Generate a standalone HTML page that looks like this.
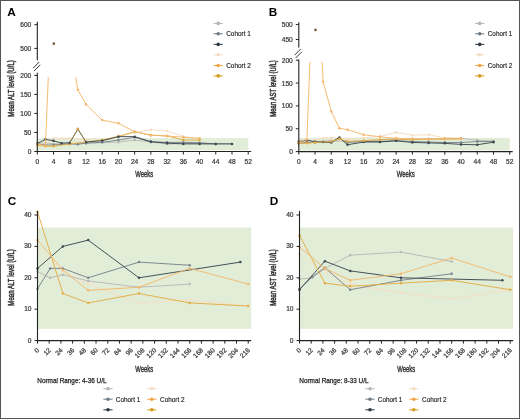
<!DOCTYPE html>
<html><head><meta charset="utf-8"><style>
html,body{margin:0;padding:0;background:#fff;width:520px;height:419px;overflow:hidden;}
svg{display:block;font-family:"Liberation Sans", sans-serif;filter:blur(0.3px);}
</style></head><body>
<svg width="520" height="419" viewBox="0 0 520 419" font-family="Liberation Sans, sans-serif">
<rect x="0" y="0" width="520" height="419" fill="#fff"/>
<text x="7.30" y="15.60" font-size="11.8" text-anchor="start" font-weight="bold" fill="#000" >A</text>
<rect x="37.30" y="138.10" width="210.91" height="12.20" fill="#e2edd8"/>
<clipPath id="clipA"><rect x="34.3" y="77.20" width="230" height="79.10"/></clipPath>
<g><polyline points="37.30,143.13 45.41,143.13 53.52,143.89 69.75,143.89 85.97,143.13 102.20,142.52 118.42,142.14 134.64,140.09 150.87,141.99 167.09,144.08 183.32,143.51 199.54,143.51 215.76,143.89 231.99,143.89" fill="none" stroke="#b8b8b8" stroke-width="0.95" stroke-linejoin="round"/>
<circle cx="37.30" cy="143.13" r="1.25" fill="#b8b8b8"/>
<circle cx="45.41" cy="143.13" r="1.25" fill="#b8b8b8"/>
<circle cx="53.52" cy="143.89" r="1.25" fill="#b8b8b8"/>
<circle cx="69.75" cy="143.89" r="1.25" fill="#b8b8b8"/>
<circle cx="85.97" cy="143.13" r="1.25" fill="#b8b8b8"/>
<circle cx="102.20" cy="142.52" r="1.25" fill="#b8b8b8"/>
<circle cx="118.42" cy="142.14" r="1.25" fill="#b8b8b8"/>
<circle cx="134.64" cy="140.09" r="1.25" fill="#b8b8b8"/>
<circle cx="150.87" cy="141.99" r="1.25" fill="#b8b8b8"/>
<circle cx="167.09" cy="144.08" r="1.25" fill="#b8b8b8"/>
<circle cx="183.32" cy="143.51" r="1.25" fill="#b8b8b8"/>
<circle cx="199.54" cy="143.51" r="1.25" fill="#b8b8b8"/>
<circle cx="215.76" cy="143.89" r="1.25" fill="#b8b8b8"/>
<circle cx="231.99" cy="143.89" r="1.25" fill="#b8b8b8"/>
</g>
<g><polyline points="37.30,144.65 45.41,143.89 53.52,138.18 61.64,138.18 69.75,138.18 85.97,140.09 102.20,139.70 118.42,137.04 134.64,132.47 150.87,129.81 167.09,130.95 183.32,136.28 199.54,139.32" fill="none" stroke="#f5ddc2" stroke-width="0.95" stroke-linejoin="round"/>
<circle cx="37.30" cy="144.65" r="1.25" fill="#f5ddc2"/>
<circle cx="45.41" cy="143.89" r="1.25" fill="#f5ddc2"/>
<circle cx="53.52" cy="138.18" r="1.25" fill="#f5ddc2"/>
<circle cx="61.64" cy="138.18" r="1.25" fill="#f5ddc2"/>
<circle cx="69.75" cy="138.18" r="1.25" fill="#f5ddc2"/>
<circle cx="85.97" cy="140.09" r="1.25" fill="#f5ddc2"/>
<circle cx="102.20" cy="139.70" r="1.25" fill="#f5ddc2"/>
<circle cx="118.42" cy="137.04" r="1.25" fill="#f5ddc2"/>
<circle cx="134.64" cy="132.47" r="1.25" fill="#f5ddc2"/>
<circle cx="150.87" cy="129.81" r="1.25" fill="#f5ddc2"/>
<circle cx="167.09" cy="130.95" r="1.25" fill="#f5ddc2"/>
<circle cx="183.32" cy="136.28" r="1.25" fill="#f5ddc2"/>
<circle cx="199.54" cy="139.32" r="1.25" fill="#f5ddc2"/>
</g>
<g><polyline points="37.30,143.89 45.41,145.03 53.52,145.03 69.75,143.89 77.86,144.27 85.97,143.13 102.20,142.37 118.42,140.09 134.64,137.23 150.87,141.99 167.09,142.37 183.32,142.37 199.54,142.75 215.76,143.89" fill="none" stroke="#78848c" stroke-width="0.95" stroke-linejoin="round"/>
<circle cx="37.30" cy="143.89" r="1.25" fill="#78848c"/>
<circle cx="45.41" cy="145.03" r="1.25" fill="#78848c"/>
<circle cx="53.52" cy="145.03" r="1.25" fill="#78848c"/>
<circle cx="69.75" cy="143.89" r="1.25" fill="#78848c"/>
<circle cx="77.86" cy="144.27" r="1.25" fill="#78848c"/>
<circle cx="85.97" cy="143.13" r="1.25" fill="#78848c"/>
<circle cx="102.20" cy="142.37" r="1.25" fill="#78848c"/>
<circle cx="118.42" cy="140.09" r="1.25" fill="#78848c"/>
<circle cx="134.64" cy="137.23" r="1.25" fill="#78848c"/>
<circle cx="150.87" cy="141.99" r="1.25" fill="#78848c"/>
<circle cx="167.09" cy="142.37" r="1.25" fill="#78848c"/>
<circle cx="183.32" cy="142.37" r="1.25" fill="#78848c"/>
<circle cx="199.54" cy="142.75" r="1.25" fill="#78848c"/>
<circle cx="215.76" cy="143.89" r="1.25" fill="#78848c"/>
</g>
<g><polyline points="37.30,145.03 45.41,146.17 53.52,146.17 69.75,143.89 85.97,141.99 102.20,140.09 118.42,136.28 134.64,131.71 150.87,135.14 167.09,135.90 183.32,140.09 199.54,140.09" fill="none" stroke="#e4ad45" stroke-width="0.95" stroke-linejoin="round"/>
<circle cx="37.30" cy="145.03" r="1.25" fill="#e4ad45"/>
<circle cx="45.41" cy="146.17" r="1.25" fill="#e4ad45"/>
<circle cx="53.52" cy="146.17" r="1.25" fill="#e4ad45"/>
<circle cx="69.75" cy="143.89" r="1.25" fill="#e4ad45"/>
<circle cx="85.97" cy="141.99" r="1.25" fill="#e4ad45"/>
<circle cx="102.20" cy="140.09" r="1.25" fill="#e4ad45"/>
<circle cx="118.42" cy="136.28" r="1.25" fill="#e4ad45"/>
<circle cx="134.64" cy="131.71" r="1.25" fill="#e4ad45"/>
<circle cx="150.87" cy="135.14" r="1.25" fill="#e4ad45"/>
<circle cx="167.09" cy="135.90" r="1.25" fill="#e4ad45"/>
<circle cx="183.32" cy="140.09" r="1.25" fill="#e4ad45"/>
<circle cx="199.54" cy="140.09" r="1.25" fill="#e4ad45"/>
</g>
<g><polyline points="37.30,143.51 45.41,139.32 53.52,140.85 61.64,143.13 69.75,142.75 77.86,129.05 85.97,141.99 102.20,140.69 118.42,136.66 134.64,136.66 150.87,141.61 167.09,143.13 183.32,143.89 199.54,143.89 215.76,143.89 231.99,143.89" fill="none" stroke="#3c4850" stroke-width="0.95" stroke-linejoin="round"/>
<circle cx="37.30" cy="143.51" r="1.25" fill="#3c4850"/>
<circle cx="45.41" cy="139.32" r="1.25" fill="#3c4850"/>
<circle cx="53.52" cy="140.85" r="1.25" fill="#3c4850"/>
<circle cx="61.64" cy="143.13" r="1.25" fill="#3c4850"/>
<circle cx="69.75" cy="142.75" r="1.25" fill="#3c4850"/>
<circle cx="77.86" cy="129.05" r="1.25" fill="#3c4850"/>
<circle cx="85.97" cy="141.99" r="1.25" fill="#3c4850"/>
<circle cx="102.20" cy="140.69" r="1.25" fill="#3c4850"/>
<circle cx="118.42" cy="136.66" r="1.25" fill="#3c4850"/>
<circle cx="134.64" cy="136.66" r="1.25" fill="#3c4850"/>
<circle cx="150.87" cy="141.61" r="1.25" fill="#3c4850"/>
<circle cx="167.09" cy="143.13" r="1.25" fill="#3c4850"/>
<circle cx="183.32" cy="143.89" r="1.25" fill="#3c4850"/>
<circle cx="199.54" cy="143.89" r="1.25" fill="#3c4850"/>
<circle cx="215.76" cy="143.89" r="1.25" fill="#3c4850"/>
<circle cx="231.99" cy="143.89" r="1.25" fill="#3c4850"/>
</g>
<g clip-path="url(#clipA)"><polyline points="37.30,143.89 45.41,145.79 53.52,-46.36 77.86,89.86 85.97,104.32 102.20,120.11 118.42,123.34 134.64,131.71 150.87,135.29 167.09,136.01 183.32,137.19 199.54,138.26" fill="none" stroke="#f3b86c" stroke-width="0.95" stroke-linejoin="round"/>
<circle cx="37.30" cy="143.89" r="1.25" fill="#f3b86c"/>
<circle cx="45.41" cy="145.79" r="1.25" fill="#f3b86c"/>
<circle cx="53.52" cy="-46.36" r="1.25" fill="#f3b86c"/>
<circle cx="77.86" cy="89.86" r="1.25" fill="#f3b86c"/>
<circle cx="85.97" cy="104.32" r="1.25" fill="#f3b86c"/>
<circle cx="102.20" cy="120.11" r="1.25" fill="#f3b86c"/>
<circle cx="118.42" cy="123.34" r="1.25" fill="#f3b86c"/>
<circle cx="134.64" cy="131.71" r="1.25" fill="#f3b86c"/>
<circle cx="150.87" cy="135.29" r="1.25" fill="#f3b86c"/>
<circle cx="167.09" cy="136.01" r="1.25" fill="#f3b86c"/>
<circle cx="183.32" cy="137.19" r="1.25" fill="#f3b86c"/>
<circle cx="199.54" cy="138.26" r="1.25" fill="#f3b86c"/>
</g>
<line x1="37.30" y1="21.70" x2="37.30" y2="60.30" stroke="#222" stroke-width="1.1"/>
<line x1="37.30" y1="72.70" x2="37.30" y2="152.00" stroke="#222" stroke-width="1.1"/>
<line x1="36.80" y1="151.50" x2="251.21" y2="151.50" stroke="#222" stroke-width="1.1"/>
<line x1="33.10" y1="68.10" x2="39.30" y2="61.90" stroke="#222" stroke-width="0.9"/>
<line x1="34.10" y1="71.00" x2="40.30" y2="64.80" stroke="#222" stroke-width="0.9"/>
<line x1="34.30" y1="48.40" x2="37.30" y2="48.40" stroke="#222" stroke-width="1.0"/>
<text x="31.30" y="50.90" font-size="6.6" text-anchor="end" font-weight="normal" fill="#3a3a3a" stroke="#3a3a3a" stroke-width="0.22">500</text>
<line x1="34.30" y1="24.70" x2="37.30" y2="24.70" stroke="#222" stroke-width="1.0"/>
<text x="31.30" y="27.20" font-size="6.6" text-anchor="end" font-weight="normal" fill="#3a3a3a" stroke="#3a3a3a" stroke-width="0.22">600</text>
<line x1="34.30" y1="151.50" x2="37.30" y2="151.50" stroke="#222" stroke-width="1.0"/>
<text x="31.30" y="154.00" font-size="6.6" text-anchor="end" font-weight="normal" fill="#3a3a3a" stroke="#3a3a3a" stroke-width="0.22">0</text>
<line x1="34.30" y1="132.47" x2="37.30" y2="132.47" stroke="#222" stroke-width="1.0"/>
<text x="31.30" y="134.97" font-size="6.6" text-anchor="end" font-weight="normal" fill="#3a3a3a" stroke="#3a3a3a" stroke-width="0.22">50</text>
<line x1="34.30" y1="113.45" x2="37.30" y2="113.45" stroke="#222" stroke-width="1.0"/>
<text x="31.30" y="115.95" font-size="6.6" text-anchor="end" font-weight="normal" fill="#3a3a3a" stroke="#3a3a3a" stroke-width="0.22">100</text>
<line x1="34.30" y1="94.42" x2="37.30" y2="94.42" stroke="#222" stroke-width="1.0"/>
<text x="31.30" y="96.92" font-size="6.6" text-anchor="end" font-weight="normal" fill="#3a3a3a" stroke="#3a3a3a" stroke-width="0.22">150</text>
<line x1="34.30" y1="75.40" x2="37.30" y2="75.40" stroke="#222" stroke-width="1.0"/>
<text x="31.30" y="77.90" font-size="6.6" text-anchor="end" font-weight="normal" fill="#3a3a3a" stroke="#3a3a3a" stroke-width="0.22">200</text>
<line x1="37.30" y1="151.50" x2="37.30" y2="154.50" stroke="#222" stroke-width="1.0"/>
<text x="37.30" y="163.80" font-size="6.6" text-anchor="middle" font-weight="normal" fill="#3a3a3a" stroke="#3a3a3a" stroke-width="0.22">0</text>
<line x1="53.52" y1="151.50" x2="53.52" y2="154.50" stroke="#222" stroke-width="1.0"/>
<text x="53.52" y="163.80" font-size="6.6" text-anchor="middle" font-weight="normal" fill="#3a3a3a" stroke="#3a3a3a" stroke-width="0.22">4</text>
<line x1="69.75" y1="151.50" x2="69.75" y2="154.50" stroke="#222" stroke-width="1.0"/>
<text x="69.75" y="163.80" font-size="6.6" text-anchor="middle" font-weight="normal" fill="#3a3a3a" stroke="#3a3a3a" stroke-width="0.22">8</text>
<line x1="85.97" y1="151.50" x2="85.97" y2="154.50" stroke="#222" stroke-width="1.0"/>
<text x="85.97" y="163.80" font-size="6.6" text-anchor="middle" font-weight="normal" fill="#3a3a3a" stroke="#3a3a3a" stroke-width="0.22">12</text>
<line x1="102.20" y1="151.50" x2="102.20" y2="154.50" stroke="#222" stroke-width="1.0"/>
<text x="102.20" y="163.80" font-size="6.6" text-anchor="middle" font-weight="normal" fill="#3a3a3a" stroke="#3a3a3a" stroke-width="0.22">16</text>
<line x1="118.42" y1="151.50" x2="118.42" y2="154.50" stroke="#222" stroke-width="1.0"/>
<text x="118.42" y="163.80" font-size="6.6" text-anchor="middle" font-weight="normal" fill="#3a3a3a" stroke="#3a3a3a" stroke-width="0.22">20</text>
<line x1="134.64" y1="151.50" x2="134.64" y2="154.50" stroke="#222" stroke-width="1.0"/>
<text x="134.64" y="163.80" font-size="6.6" text-anchor="middle" font-weight="normal" fill="#3a3a3a" stroke="#3a3a3a" stroke-width="0.22">24</text>
<line x1="150.87" y1="151.50" x2="150.87" y2="154.50" stroke="#222" stroke-width="1.0"/>
<text x="150.87" y="163.80" font-size="6.6" text-anchor="middle" font-weight="normal" fill="#3a3a3a" stroke="#3a3a3a" stroke-width="0.22">28</text>
<line x1="167.09" y1="151.50" x2="167.09" y2="154.50" stroke="#222" stroke-width="1.0"/>
<text x="167.09" y="163.80" font-size="6.6" text-anchor="middle" font-weight="normal" fill="#3a3a3a" stroke="#3a3a3a" stroke-width="0.22">32</text>
<line x1="183.32" y1="151.50" x2="183.32" y2="154.50" stroke="#222" stroke-width="1.0"/>
<text x="183.32" y="163.80" font-size="6.6" text-anchor="middle" font-weight="normal" fill="#3a3a3a" stroke="#3a3a3a" stroke-width="0.22">36</text>
<line x1="199.54" y1="151.50" x2="199.54" y2="154.50" stroke="#222" stroke-width="1.0"/>
<text x="199.54" y="163.80" font-size="6.6" text-anchor="middle" font-weight="normal" fill="#3a3a3a" stroke="#3a3a3a" stroke-width="0.22">40</text>
<line x1="215.76" y1="151.50" x2="215.76" y2="154.50" stroke="#222" stroke-width="1.0"/>
<text x="215.76" y="163.80" font-size="6.6" text-anchor="middle" font-weight="normal" fill="#3a3a3a" stroke="#3a3a3a" stroke-width="0.22">44</text>
<line x1="231.99" y1="151.50" x2="231.99" y2="154.50" stroke="#222" stroke-width="1.0"/>
<text x="231.99" y="163.80" font-size="6.6" text-anchor="middle" font-weight="normal" fill="#3a3a3a" stroke="#3a3a3a" stroke-width="0.22">48</text>
<line x1="248.21" y1="151.50" x2="248.21" y2="154.50" stroke="#222" stroke-width="1.0"/>
<text x="248.21" y="163.80" font-size="6.6" text-anchor="middle" font-weight="normal" fill="#3a3a3a" stroke="#3a3a3a" stroke-width="0.22">52</text>
<text x="144.30" y="176.80" font-size="8.6" text-anchor="middle" font-weight="normal" fill="#333" textLength="18.0" lengthAdjust="spacingAndGlyphs" stroke="#333" stroke-width="0.4">Weeks</text>
<text transform="translate(14.00,88.4) rotate(-90)" x="0" y="0" font-size="8.6" text-anchor="middle" fill="#333" stroke="#333" stroke-width="0.5" textLength="56.5" lengthAdjust="spacingAndGlyphs">Mean ALT level (U/L)</text>
<line x1="213.60" y1="23.40" x2="222.80" y2="23.40" stroke="#b4b4b4" stroke-width="1.0"/>
<circle cx="218.20" cy="23.40" r="1.8" fill="#b4b4b4"/>
<line x1="213.60" y1="33.80" x2="222.80" y2="33.80" stroke="#6f7c86" stroke-width="1.0"/>
<circle cx="218.20" cy="33.80" r="1.8" fill="#6f7c86"/>
<text x="226.20" y="36.10" font-size="7.0" text-anchor="start" font-weight="normal" fill="#222" textLength="24.6" lengthAdjust="spacingAndGlyphs" stroke="#222" stroke-width="0.15">Cohort 1</text>
<line x1="213.60" y1="44.40" x2="222.80" y2="44.40" stroke="#2f3a44" stroke-width="1.0"/>
<circle cx="218.20" cy="44.40" r="1.8" fill="#2f3a44"/>
<line x1="213.60" y1="54.80" x2="222.80" y2="54.80" stroke="#f3dcc0" stroke-width="1.0"/>
<circle cx="218.20" cy="54.80" r="1.8" fill="#f3dcc0"/>
<line x1="213.60" y1="65.50" x2="222.80" y2="65.50" stroke="#f0a444" stroke-width="1.0"/>
<circle cx="218.20" cy="65.50" r="1.8" fill="#f0a444"/>
<text x="226.20" y="67.80" font-size="7.0" text-anchor="start" font-weight="normal" fill="#222" textLength="24.6" lengthAdjust="spacingAndGlyphs" stroke="#222" stroke-width="0.15">Cohort 2</text>
<line x1="213.60" y1="75.90" x2="222.80" y2="75.90" stroke="#d89a1c" stroke-width="1.0"/>
<circle cx="218.20" cy="75.90" r="1.8" fill="#d89a1c"/>
<circle cx="53.82" cy="43.66" r="1.35" fill="#75643e"/>
<polyline points="69.75,142.75 77.86,129.05 85.97,141.99" fill="none" stroke="#d89a1c" stroke-width="0.9" opacity="0.45"/>
<circle cx="77.86" cy="129.05" r="1.2" fill="#f0a444"/>
<text x="268.80" y="15.60" font-size="11.8" text-anchor="start" font-weight="bold" fill="#000" >B</text>
<rect x="298.80" y="137.90" width="210.91" height="12.50" fill="#e2edd8"/>
<clipPath id="clipB"><rect x="295.8" y="62.00" width="230" height="94.40"/></clipPath>
<g><polyline points="298.80,142.46 306.91,141.55 315.02,140.17 323.14,137.89 331.25,137.89 339.36,137.89 347.47,138.80 363.70,137.89 379.92,136.52 396.14,132.41 412.37,135.15 428.59,134.69 444.82,137.89 461.04,137.89" fill="none" stroke="#f5ddc2" stroke-width="0.95" stroke-linejoin="round"/>
<circle cx="298.80" cy="142.46" r="1.25" fill="#f5ddc2"/>
<circle cx="306.91" cy="141.55" r="1.25" fill="#f5ddc2"/>
<circle cx="315.02" cy="140.17" r="1.25" fill="#f5ddc2"/>
<circle cx="323.14" cy="137.89" r="1.25" fill="#f5ddc2"/>
<circle cx="331.25" cy="137.89" r="1.25" fill="#f5ddc2"/>
<circle cx="339.36" cy="137.89" r="1.25" fill="#f5ddc2"/>
<circle cx="347.47" cy="138.80" r="1.25" fill="#f5ddc2"/>
<circle cx="363.70" cy="137.89" r="1.25" fill="#f5ddc2"/>
<circle cx="379.92" cy="136.52" r="1.25" fill="#f5ddc2"/>
<circle cx="396.14" cy="132.41" r="1.25" fill="#f5ddc2"/>
<circle cx="412.37" cy="135.15" r="1.25" fill="#f5ddc2"/>
<circle cx="428.59" cy="134.69" r="1.25" fill="#f5ddc2"/>
<circle cx="444.82" cy="137.89" r="1.25" fill="#f5ddc2"/>
<circle cx="461.04" cy="137.89" r="1.25" fill="#f5ddc2"/>
</g>
<g><polyline points="298.80,141.55 306.91,140.63 315.02,141.55 331.25,140.63 347.47,141.55 363.70,140.63 379.92,140.17 396.14,139.26 412.37,139.26 428.59,138.80 444.82,138.80 461.04,138.35 477.26,140.17 493.49,141.09" fill="none" stroke="#b8b8b8" stroke-width="0.95" stroke-linejoin="round"/>
<circle cx="298.80" cy="141.55" r="1.25" fill="#b8b8b8"/>
<circle cx="306.91" cy="140.63" r="1.25" fill="#b8b8b8"/>
<circle cx="315.02" cy="141.55" r="1.25" fill="#b8b8b8"/>
<circle cx="331.25" cy="140.63" r="1.25" fill="#b8b8b8"/>
<circle cx="347.47" cy="141.55" r="1.25" fill="#b8b8b8"/>
<circle cx="363.70" cy="140.63" r="1.25" fill="#b8b8b8"/>
<circle cx="379.92" cy="140.17" r="1.25" fill="#b8b8b8"/>
<circle cx="396.14" cy="139.26" r="1.25" fill="#b8b8b8"/>
<circle cx="412.37" cy="139.26" r="1.25" fill="#b8b8b8"/>
<circle cx="428.59" cy="138.80" r="1.25" fill="#b8b8b8"/>
<circle cx="444.82" cy="138.80" r="1.25" fill="#b8b8b8"/>
<circle cx="461.04" cy="138.35" r="1.25" fill="#b8b8b8"/>
<circle cx="477.26" cy="140.17" r="1.25" fill="#b8b8b8"/>
<circle cx="493.49" cy="141.09" r="1.25" fill="#b8b8b8"/>
</g>
<g><polyline points="298.80,143.37 306.91,142.46 315.02,142.46 331.25,142.46 339.36,138.80 347.47,142.46 363.70,141.55 379.92,141.55 396.14,140.63 412.37,141.55 428.59,142.00 444.82,142.46 461.04,142.46 477.26,141.55 493.49,141.55" fill="none" stroke="#78848c" stroke-width="0.95" stroke-linejoin="round"/>
<circle cx="298.80" cy="143.37" r="1.25" fill="#78848c"/>
<circle cx="306.91" cy="142.46" r="1.25" fill="#78848c"/>
<circle cx="315.02" cy="142.46" r="1.25" fill="#78848c"/>
<circle cx="331.25" cy="142.46" r="1.25" fill="#78848c"/>
<circle cx="339.36" cy="138.80" r="1.25" fill="#78848c"/>
<circle cx="347.47" cy="142.46" r="1.25" fill="#78848c"/>
<circle cx="363.70" cy="141.55" r="1.25" fill="#78848c"/>
<circle cx="379.92" cy="141.55" r="1.25" fill="#78848c"/>
<circle cx="396.14" cy="140.63" r="1.25" fill="#78848c"/>
<circle cx="412.37" cy="141.55" r="1.25" fill="#78848c"/>
<circle cx="428.59" cy="142.00" r="1.25" fill="#78848c"/>
<circle cx="444.82" cy="142.46" r="1.25" fill="#78848c"/>
<circle cx="461.04" cy="142.46" r="1.25" fill="#78848c"/>
<circle cx="477.26" cy="141.55" r="1.25" fill="#78848c"/>
<circle cx="493.49" cy="141.55" r="1.25" fill="#78848c"/>
</g>
<g><polyline points="298.80,141.55 306.91,140.17 315.02,141.77 323.14,142.00 331.25,142.23 339.36,137.43 347.47,144.75 363.70,142.00 379.92,142.00 396.14,140.81 412.37,142.46 428.59,142.92 444.82,143.37 461.04,144.38 477.26,144.75 493.49,142.19" fill="none" stroke="#3c4850" stroke-width="0.95" stroke-linejoin="round"/>
<circle cx="298.80" cy="141.55" r="1.25" fill="#3c4850"/>
<circle cx="306.91" cy="140.17" r="1.25" fill="#3c4850"/>
<circle cx="315.02" cy="141.77" r="1.25" fill="#3c4850"/>
<circle cx="323.14" cy="142.00" r="1.25" fill="#3c4850"/>
<circle cx="331.25" cy="142.23" r="1.25" fill="#3c4850"/>
<circle cx="339.36" cy="137.43" r="1.25" fill="#3c4850"/>
<circle cx="347.47" cy="144.75" r="1.25" fill="#3c4850"/>
<circle cx="363.70" cy="142.00" r="1.25" fill="#3c4850"/>
<circle cx="379.92" cy="142.00" r="1.25" fill="#3c4850"/>
<circle cx="396.14" cy="140.81" r="1.25" fill="#3c4850"/>
<circle cx="412.37" cy="142.46" r="1.25" fill="#3c4850"/>
<circle cx="428.59" cy="142.92" r="1.25" fill="#3c4850"/>
<circle cx="444.82" cy="143.37" r="1.25" fill="#3c4850"/>
<circle cx="461.04" cy="144.38" r="1.25" fill="#3c4850"/>
<circle cx="477.26" cy="144.75" r="1.25" fill="#3c4850"/>
<circle cx="493.49" cy="142.19" r="1.25" fill="#3c4850"/>
</g>
<g><polyline points="298.80,143.37 306.91,143.37 315.02,142.46 331.25,141.55 339.36,138.80 347.47,141.55 363.70,140.63 379.92,139.72 396.14,138.80 412.37,139.72 428.59,139.26 444.82,138.80 461.04,138.80" fill="none" stroke="#e4ad45" stroke-width="0.95" stroke-linejoin="round"/>
<circle cx="298.80" cy="143.37" r="1.25" fill="#e4ad45"/>
<circle cx="306.91" cy="143.37" r="1.25" fill="#e4ad45"/>
<circle cx="315.02" cy="142.46" r="1.25" fill="#e4ad45"/>
<circle cx="331.25" cy="141.55" r="1.25" fill="#e4ad45"/>
<circle cx="339.36" cy="138.80" r="1.25" fill="#e4ad45"/>
<circle cx="347.47" cy="141.55" r="1.25" fill="#e4ad45"/>
<circle cx="363.70" cy="140.63" r="1.25" fill="#e4ad45"/>
<circle cx="379.92" cy="139.72" r="1.25" fill="#e4ad45"/>
<circle cx="396.14" cy="138.80" r="1.25" fill="#e4ad45"/>
<circle cx="412.37" cy="139.72" r="1.25" fill="#e4ad45"/>
<circle cx="428.59" cy="139.26" r="1.25" fill="#e4ad45"/>
<circle cx="444.82" cy="138.80" r="1.25" fill="#e4ad45"/>
<circle cx="461.04" cy="138.80" r="1.25" fill="#e4ad45"/>
</g>
<g clip-path="url(#clipB)"><polyline points="298.80,141.55 306.91,139.49 315.02,-68.67 323.14,81.82 331.25,111.38 339.36,128.29 347.47,129.66 363.70,134.69 379.92,136.79 396.14,138.35 412.37,138.80 428.59,139.26 444.82,139.26 461.04,138.80" fill="none" stroke="#f3b86c" stroke-width="0.95" stroke-linejoin="round"/>
<circle cx="298.80" cy="141.55" r="1.25" fill="#f3b86c"/>
<circle cx="306.91" cy="139.49" r="1.25" fill="#f3b86c"/>
<circle cx="315.02" cy="-68.67" r="1.25" fill="#f3b86c"/>
<circle cx="323.14" cy="81.82" r="1.25" fill="#f3b86c"/>
<circle cx="331.25" cy="111.38" r="1.25" fill="#f3b86c"/>
<circle cx="339.36" cy="128.29" r="1.25" fill="#f3b86c"/>
<circle cx="347.47" cy="129.66" r="1.25" fill="#f3b86c"/>
<circle cx="363.70" cy="134.69" r="1.25" fill="#f3b86c"/>
<circle cx="379.92" cy="136.79" r="1.25" fill="#f3b86c"/>
<circle cx="396.14" cy="138.35" r="1.25" fill="#f3b86c"/>
<circle cx="412.37" cy="138.80" r="1.25" fill="#f3b86c"/>
<circle cx="428.59" cy="139.26" r="1.25" fill="#f3b86c"/>
<circle cx="444.82" cy="139.26" r="1.25" fill="#f3b86c"/>
<circle cx="461.04" cy="138.80" r="1.25" fill="#f3b86c"/>
</g>
<line x1="298.80" y1="22.20" x2="298.80" y2="47.50" stroke="#222" stroke-width="1.1"/>
<line x1="298.80" y1="59.60" x2="298.80" y2="152.10" stroke="#222" stroke-width="1.1"/>
<line x1="298.30" y1="151.60" x2="512.71" y2="151.60" stroke="#222" stroke-width="1.1"/>
<line x1="294.60" y1="55.15" x2="300.80" y2="48.95" stroke="#222" stroke-width="0.9"/>
<line x1="295.60" y1="58.05" x2="301.80" y2="51.85" stroke="#222" stroke-width="0.9"/>
<line x1="295.80" y1="39.50" x2="298.80" y2="39.50" stroke="#222" stroke-width="1.0"/>
<text x="292.80" y="42.00" font-size="6.6" text-anchor="end" font-weight="normal" fill="#3a3a3a" stroke="#3a3a3a" stroke-width="0.22">450</text>
<line x1="295.80" y1="24.60" x2="298.80" y2="24.60" stroke="#222" stroke-width="1.0"/>
<text x="292.80" y="27.10" font-size="6.6" text-anchor="end" font-weight="normal" fill="#3a3a3a" stroke="#3a3a3a" stroke-width="0.22">500</text>
<line x1="295.80" y1="151.60" x2="298.80" y2="151.60" stroke="#222" stroke-width="1.0"/>
<text x="292.80" y="154.10" font-size="6.6" text-anchor="end" font-weight="normal" fill="#3a3a3a" stroke="#3a3a3a" stroke-width="0.22">0</text>
<line x1="295.80" y1="128.75" x2="298.80" y2="128.75" stroke="#222" stroke-width="1.0"/>
<text x="292.80" y="131.25" font-size="6.6" text-anchor="end" font-weight="normal" fill="#3a3a3a" stroke="#3a3a3a" stroke-width="0.22">50</text>
<line x1="295.80" y1="105.90" x2="298.80" y2="105.90" stroke="#222" stroke-width="1.0"/>
<text x="292.80" y="108.40" font-size="6.6" text-anchor="end" font-weight="normal" fill="#3a3a3a" stroke="#3a3a3a" stroke-width="0.22">100</text>
<line x1="295.80" y1="83.05" x2="298.80" y2="83.05" stroke="#222" stroke-width="1.0"/>
<text x="292.80" y="85.55" font-size="6.6" text-anchor="end" font-weight="normal" fill="#3a3a3a" stroke="#3a3a3a" stroke-width="0.22">150</text>
<line x1="295.80" y1="60.20" x2="298.80" y2="60.20" stroke="#222" stroke-width="1.0"/>
<text x="292.80" y="62.70" font-size="6.6" text-anchor="end" font-weight="normal" fill="#3a3a3a" stroke="#3a3a3a" stroke-width="0.22">200</text>
<line x1="298.80" y1="151.60" x2="298.80" y2="154.60" stroke="#222" stroke-width="1.0"/>
<text x="298.80" y="163.90" font-size="6.6" text-anchor="middle" font-weight="normal" fill="#3a3a3a" stroke="#3a3a3a" stroke-width="0.22">0</text>
<line x1="315.02" y1="151.60" x2="315.02" y2="154.60" stroke="#222" stroke-width="1.0"/>
<text x="315.02" y="163.90" font-size="6.6" text-anchor="middle" font-weight="normal" fill="#3a3a3a" stroke="#3a3a3a" stroke-width="0.22">4</text>
<line x1="331.25" y1="151.60" x2="331.25" y2="154.60" stroke="#222" stroke-width="1.0"/>
<text x="331.25" y="163.90" font-size="6.6" text-anchor="middle" font-weight="normal" fill="#3a3a3a" stroke="#3a3a3a" stroke-width="0.22">8</text>
<line x1="347.47" y1="151.60" x2="347.47" y2="154.60" stroke="#222" stroke-width="1.0"/>
<text x="347.47" y="163.90" font-size="6.6" text-anchor="middle" font-weight="normal" fill="#3a3a3a" stroke="#3a3a3a" stroke-width="0.22">12</text>
<line x1="363.70" y1="151.60" x2="363.70" y2="154.60" stroke="#222" stroke-width="1.0"/>
<text x="363.70" y="163.90" font-size="6.6" text-anchor="middle" font-weight="normal" fill="#3a3a3a" stroke="#3a3a3a" stroke-width="0.22">16</text>
<line x1="379.92" y1="151.60" x2="379.92" y2="154.60" stroke="#222" stroke-width="1.0"/>
<text x="379.92" y="163.90" font-size="6.6" text-anchor="middle" font-weight="normal" fill="#3a3a3a" stroke="#3a3a3a" stroke-width="0.22">20</text>
<line x1="396.14" y1="151.60" x2="396.14" y2="154.60" stroke="#222" stroke-width="1.0"/>
<text x="396.14" y="163.90" font-size="6.6" text-anchor="middle" font-weight="normal" fill="#3a3a3a" stroke="#3a3a3a" stroke-width="0.22">24</text>
<line x1="412.37" y1="151.60" x2="412.37" y2="154.60" stroke="#222" stroke-width="1.0"/>
<text x="412.37" y="163.90" font-size="6.6" text-anchor="middle" font-weight="normal" fill="#3a3a3a" stroke="#3a3a3a" stroke-width="0.22">28</text>
<line x1="428.59" y1="151.60" x2="428.59" y2="154.60" stroke="#222" stroke-width="1.0"/>
<text x="428.59" y="163.90" font-size="6.6" text-anchor="middle" font-weight="normal" fill="#3a3a3a" stroke="#3a3a3a" stroke-width="0.22">32</text>
<line x1="444.82" y1="151.60" x2="444.82" y2="154.60" stroke="#222" stroke-width="1.0"/>
<text x="444.82" y="163.90" font-size="6.6" text-anchor="middle" font-weight="normal" fill="#3a3a3a" stroke="#3a3a3a" stroke-width="0.22">36</text>
<line x1="461.04" y1="151.60" x2="461.04" y2="154.60" stroke="#222" stroke-width="1.0"/>
<text x="461.04" y="163.90" font-size="6.6" text-anchor="middle" font-weight="normal" fill="#3a3a3a" stroke="#3a3a3a" stroke-width="0.22">40</text>
<line x1="477.26" y1="151.60" x2="477.26" y2="154.60" stroke="#222" stroke-width="1.0"/>
<text x="477.26" y="163.90" font-size="6.6" text-anchor="middle" font-weight="normal" fill="#3a3a3a" stroke="#3a3a3a" stroke-width="0.22">44</text>
<line x1="493.49" y1="151.60" x2="493.49" y2="154.60" stroke="#222" stroke-width="1.0"/>
<text x="493.49" y="163.90" font-size="6.6" text-anchor="middle" font-weight="normal" fill="#3a3a3a" stroke="#3a3a3a" stroke-width="0.22">48</text>
<line x1="509.71" y1="151.60" x2="509.71" y2="154.60" stroke="#222" stroke-width="1.0"/>
<text x="509.71" y="163.90" font-size="6.6" text-anchor="middle" font-weight="normal" fill="#3a3a3a" stroke="#3a3a3a" stroke-width="0.22">52</text>
<text x="405.80" y="176.80" font-size="8.6" text-anchor="middle" font-weight="normal" fill="#333" textLength="18.0" lengthAdjust="spacingAndGlyphs" stroke="#333" stroke-width="0.4">Weeks</text>
<text transform="translate(275.50,88.4) rotate(-90)" x="0" y="0" font-size="8.6" text-anchor="middle" fill="#333" stroke="#333" stroke-width="0.5" textLength="56.5" lengthAdjust="spacingAndGlyphs">Mean AST level (U/L)</text>
<line x1="475.10" y1="23.40" x2="484.30" y2="23.40" stroke="#b4b4b4" stroke-width="1.0"/>
<circle cx="479.70" cy="23.40" r="1.8" fill="#b4b4b4"/>
<line x1="475.10" y1="33.80" x2="484.30" y2="33.80" stroke="#6f7c86" stroke-width="1.0"/>
<circle cx="479.70" cy="33.80" r="1.8" fill="#6f7c86"/>
<text x="487.70" y="36.10" font-size="7.0" text-anchor="start" font-weight="normal" fill="#222" textLength="24.6" lengthAdjust="spacingAndGlyphs" stroke="#222" stroke-width="0.15">Cohort 1</text>
<line x1="475.10" y1="44.40" x2="484.30" y2="44.40" stroke="#2f3a44" stroke-width="1.0"/>
<circle cx="479.70" cy="44.40" r="1.8" fill="#2f3a44"/>
<line x1="475.10" y1="54.80" x2="484.30" y2="54.80" stroke="#f3dcc0" stroke-width="1.0"/>
<circle cx="479.70" cy="54.80" r="1.8" fill="#f3dcc0"/>
<line x1="475.10" y1="65.50" x2="484.30" y2="65.50" stroke="#f0a444" stroke-width="1.0"/>
<circle cx="479.70" cy="65.50" r="1.8" fill="#f0a444"/>
<text x="487.70" y="67.80" font-size="7.0" text-anchor="start" font-weight="normal" fill="#222" textLength="24.6" lengthAdjust="spacingAndGlyphs" stroke="#222" stroke-width="0.15">Cohort 2</text>
<line x1="475.10" y1="75.90" x2="484.30" y2="75.90" stroke="#d89a1c" stroke-width="1.0"/>
<circle cx="479.70" cy="75.90" r="1.8" fill="#d89a1c"/>
<circle cx="315.52" cy="29.96" r="1.35" fill="#75643e"/>
<text x="7.70" y="205.30" font-size="11.8" text-anchor="start" font-weight="bold" fill="#000" >C</text>
<rect x="37.50" y="227.56" width="213.71" height="101.28" fill="#e2edd8"/>
<g><polyline points="37.50,246.40 62.86,271.52 88.23,284.08 138.95,302.92 189.68,299.78 248.21,306.06" fill="none" stroke="#f5ddc2" stroke-width="0.95" stroke-linejoin="round"/>
<circle cx="37.50" cy="246.40" r="1.25" fill="#f5ddc2"/>
<circle cx="62.86" cy="271.52" r="1.25" fill="#f5ddc2"/>
<circle cx="88.23" cy="284.08" r="1.25" fill="#f5ddc2"/>
<circle cx="138.95" cy="302.92" r="1.25" fill="#f5ddc2"/>
<circle cx="189.68" cy="299.78" r="1.25" fill="#f5ddc2"/>
<circle cx="248.21" cy="306.06" r="1.25" fill="#f5ddc2"/>
</g>
<g><polyline points="37.50,271.52 50.18,277.80 62.86,274.66 88.23,280.94 138.95,287.22 189.68,284.08" fill="none" stroke="#b8b8b8" stroke-width="0.95" stroke-linejoin="round"/>
<circle cx="37.50" cy="271.52" r="1.25" fill="#b8b8b8"/>
<circle cx="50.18" cy="277.80" r="1.25" fill="#b8b8b8"/>
<circle cx="62.86" cy="274.66" r="1.25" fill="#b8b8b8"/>
<circle cx="88.23" cy="280.94" r="1.25" fill="#b8b8b8"/>
<circle cx="138.95" cy="287.22" r="1.25" fill="#b8b8b8"/>
<circle cx="189.68" cy="284.08" r="1.25" fill="#b8b8b8"/>
</g>
<g><polyline points="37.50,288.79 50.18,268.38 62.86,268.38 88.23,277.80 138.95,262.10 189.68,265.24" fill="none" stroke="#78848c" stroke-width="0.95" stroke-linejoin="round"/>
<circle cx="37.50" cy="288.79" r="1.25" fill="#78848c"/>
<circle cx="50.18" cy="268.38" r="1.25" fill="#78848c"/>
<circle cx="62.86" cy="268.38" r="1.25" fill="#78848c"/>
<circle cx="88.23" cy="277.80" r="1.25" fill="#78848c"/>
<circle cx="138.95" cy="262.10" r="1.25" fill="#78848c"/>
<circle cx="189.68" cy="265.24" r="1.25" fill="#78848c"/>
</g>
<g><polyline points="37.50,268.38 62.86,246.40 88.23,240.12 138.95,277.80 240.40,262.10" fill="none" stroke="#3c4850" stroke-width="0.95" stroke-linejoin="round"/>
<circle cx="37.50" cy="268.38" r="1.25" fill="#3c4850"/>
<circle cx="62.86" cy="246.40" r="1.25" fill="#3c4850"/>
<circle cx="88.23" cy="240.12" r="1.25" fill="#3c4850"/>
<circle cx="138.95" cy="277.80" r="1.25" fill="#3c4850"/>
<circle cx="240.40" cy="262.10" r="1.25" fill="#3c4850"/>
</g>
<g><polyline points="37.50,211.86 62.86,293.50 88.23,302.92 138.95,293.50 189.68,302.92 248.21,306.06" fill="none" stroke="#e4ad45" stroke-width="0.95" stroke-linejoin="round"/>
<circle cx="37.50" cy="211.86" r="1.25" fill="#e4ad45"/>
<circle cx="62.86" cy="293.50" r="1.25" fill="#e4ad45"/>
<circle cx="88.23" cy="302.92" r="1.25" fill="#e4ad45"/>
<circle cx="138.95" cy="293.50" r="1.25" fill="#e4ad45"/>
<circle cx="189.68" cy="302.92" r="1.25" fill="#e4ad45"/>
<circle cx="248.21" cy="306.06" r="1.25" fill="#e4ad45"/>
</g>
<g><polyline points="37.50,240.12 62.86,269.95 88.23,290.36 138.95,287.22 189.68,268.38 248.21,284.08" fill="none" stroke="#f3b86c" stroke-width="0.95" stroke-linejoin="round"/>
<circle cx="37.50" cy="240.12" r="1.25" fill="#f3b86c"/>
<circle cx="62.86" cy="269.95" r="1.25" fill="#f3b86c"/>
<circle cx="88.23" cy="290.36" r="1.25" fill="#f3b86c"/>
<circle cx="138.95" cy="287.22" r="1.25" fill="#f3b86c"/>
<circle cx="189.68" cy="268.38" r="1.25" fill="#f3b86c"/>
<circle cx="248.21" cy="284.08" r="1.25" fill="#f3b86c"/>
</g>
<line x1="37.50" y1="210.90" x2="37.50" y2="341.10" stroke="#222" stroke-width="1.1"/>
<line x1="37.00" y1="340.60" x2="251.21" y2="340.60" stroke="#222" stroke-width="1.1"/>
<line x1="34.50" y1="340.60" x2="37.50" y2="340.60" stroke="#222" stroke-width="1.0"/>
<text x="31.50" y="342.60" font-size="6.6" text-anchor="end" font-weight="normal" fill="#3a3a3a" stroke="#3a3a3a" stroke-width="0.22">0</text>
<line x1="34.50" y1="309.20" x2="37.50" y2="309.20" stroke="#222" stroke-width="1.0"/>
<text x="31.50" y="311.20" font-size="6.6" text-anchor="end" font-weight="normal" fill="#3a3a3a" stroke="#3a3a3a" stroke-width="0.22">10</text>
<line x1="34.50" y1="277.80" x2="37.50" y2="277.80" stroke="#222" stroke-width="1.0"/>
<text x="31.50" y="279.80" font-size="6.6" text-anchor="end" font-weight="normal" fill="#3a3a3a" stroke="#3a3a3a" stroke-width="0.22">20</text>
<line x1="34.50" y1="246.40" x2="37.50" y2="246.40" stroke="#222" stroke-width="1.0"/>
<text x="31.50" y="248.40" font-size="6.6" text-anchor="end" font-weight="normal" fill="#3a3a3a" stroke="#3a3a3a" stroke-width="0.22">30</text>
<line x1="34.50" y1="215.00" x2="37.50" y2="215.00" stroke="#222" stroke-width="1.0"/>
<text x="31.50" y="217.00" font-size="6.6" text-anchor="end" font-weight="normal" fill="#3a3a3a" stroke="#3a3a3a" stroke-width="0.22">40</text>
<line x1="37.50" y1="340.60" x2="37.50" y2="343.60" stroke="#222" stroke-width="1.0"/>
<text transform="translate(39.70,350.60) rotate(-45)" x="0" y="0" font-size="6.6" text-anchor="end" fill="#3a3a3a" stroke="#3a3a3a" stroke-width="0.22">0</text>
<line x1="49.21" y1="340.60" x2="49.21" y2="343.60" stroke="#222" stroke-width="1.0"/>
<text transform="translate(51.41,350.60) rotate(-45)" x="0" y="0" font-size="6.6" text-anchor="end" fill="#3a3a3a" stroke="#3a3a3a" stroke-width="0.22">12</text>
<line x1="60.91" y1="340.60" x2="60.91" y2="343.60" stroke="#222" stroke-width="1.0"/>
<text transform="translate(63.11,350.60) rotate(-45)" x="0" y="0" font-size="6.6" text-anchor="end" fill="#3a3a3a" stroke="#3a3a3a" stroke-width="0.22">24</text>
<line x1="72.62" y1="340.60" x2="72.62" y2="343.60" stroke="#222" stroke-width="1.0"/>
<text transform="translate(74.82,350.60) rotate(-45)" x="0" y="0" font-size="6.6" text-anchor="end" fill="#3a3a3a" stroke="#3a3a3a" stroke-width="0.22">36</text>
<line x1="84.32" y1="340.60" x2="84.32" y2="343.60" stroke="#222" stroke-width="1.0"/>
<text transform="translate(86.52,350.60) rotate(-45)" x="0" y="0" font-size="6.6" text-anchor="end" fill="#3a3a3a" stroke="#3a3a3a" stroke-width="0.22">48</text>
<line x1="96.03" y1="340.60" x2="96.03" y2="343.60" stroke="#222" stroke-width="1.0"/>
<text transform="translate(98.23,350.60) rotate(-45)" x="0" y="0" font-size="6.6" text-anchor="end" fill="#3a3a3a" stroke="#3a3a3a" stroke-width="0.22">60</text>
<line x1="107.74" y1="340.60" x2="107.74" y2="343.60" stroke="#222" stroke-width="1.0"/>
<text transform="translate(109.94,350.60) rotate(-45)" x="0" y="0" font-size="6.6" text-anchor="end" fill="#3a3a3a" stroke="#3a3a3a" stroke-width="0.22">72</text>
<line x1="119.44" y1="340.60" x2="119.44" y2="343.60" stroke="#222" stroke-width="1.0"/>
<text transform="translate(121.64,350.60) rotate(-45)" x="0" y="0" font-size="6.6" text-anchor="end" fill="#3a3a3a" stroke="#3a3a3a" stroke-width="0.22">84</text>
<line x1="131.15" y1="340.60" x2="131.15" y2="343.60" stroke="#222" stroke-width="1.0"/>
<text transform="translate(133.35,350.60) rotate(-45)" x="0" y="0" font-size="6.6" text-anchor="end" fill="#3a3a3a" stroke="#3a3a3a" stroke-width="0.22">96</text>
<line x1="142.85" y1="340.60" x2="142.85" y2="343.60" stroke="#222" stroke-width="1.0"/>
<text transform="translate(145.05,350.60) rotate(-45)" x="0" y="0" font-size="6.6" text-anchor="end" fill="#3a3a3a" stroke="#3a3a3a" stroke-width="0.22">108</text>
<line x1="154.56" y1="340.60" x2="154.56" y2="343.60" stroke="#222" stroke-width="1.0"/>
<text transform="translate(156.76,350.60) rotate(-45)" x="0" y="0" font-size="6.6" text-anchor="end" fill="#3a3a3a" stroke="#3a3a3a" stroke-width="0.22">120</text>
<line x1="166.27" y1="340.60" x2="166.27" y2="343.60" stroke="#222" stroke-width="1.0"/>
<text transform="translate(168.47,350.60) rotate(-45)" x="0" y="0" font-size="6.6" text-anchor="end" fill="#3a3a3a" stroke="#3a3a3a" stroke-width="0.22">132</text>
<line x1="177.97" y1="340.60" x2="177.97" y2="343.60" stroke="#222" stroke-width="1.0"/>
<text transform="translate(180.17,350.60) rotate(-45)" x="0" y="0" font-size="6.6" text-anchor="end" fill="#3a3a3a" stroke="#3a3a3a" stroke-width="0.22">144</text>
<line x1="189.68" y1="340.60" x2="189.68" y2="343.60" stroke="#222" stroke-width="1.0"/>
<text transform="translate(191.88,350.60) rotate(-45)" x="0" y="0" font-size="6.6" text-anchor="end" fill="#3a3a3a" stroke="#3a3a3a" stroke-width="0.22">156</text>
<line x1="201.38" y1="340.60" x2="201.38" y2="343.60" stroke="#222" stroke-width="1.0"/>
<text transform="translate(203.58,350.60) rotate(-45)" x="0" y="0" font-size="6.6" text-anchor="end" fill="#3a3a3a" stroke="#3a3a3a" stroke-width="0.22">168</text>
<line x1="213.09" y1="340.60" x2="213.09" y2="343.60" stroke="#222" stroke-width="1.0"/>
<text transform="translate(215.29,350.60) rotate(-45)" x="0" y="0" font-size="6.6" text-anchor="end" fill="#3a3a3a" stroke="#3a3a3a" stroke-width="0.22">180</text>
<line x1="224.80" y1="340.60" x2="224.80" y2="343.60" stroke="#222" stroke-width="1.0"/>
<text transform="translate(227.00,350.60) rotate(-45)" x="0" y="0" font-size="6.6" text-anchor="end" fill="#3a3a3a" stroke="#3a3a3a" stroke-width="0.22">192</text>
<line x1="236.50" y1="340.60" x2="236.50" y2="343.60" stroke="#222" stroke-width="1.0"/>
<text transform="translate(238.70,350.60) rotate(-45)" x="0" y="0" font-size="6.6" text-anchor="end" fill="#3a3a3a" stroke="#3a3a3a" stroke-width="0.22">204</text>
<line x1="248.21" y1="340.60" x2="248.21" y2="343.60" stroke="#222" stroke-width="1.0"/>
<text transform="translate(250.41,350.60) rotate(-45)" x="0" y="0" font-size="6.6" text-anchor="end" fill="#3a3a3a" stroke="#3a3a3a" stroke-width="0.22">216</text>
<text x="144.30" y="371.60" font-size="8.6" text-anchor="middle" font-weight="normal" fill="#333" textLength="18.0" lengthAdjust="spacingAndGlyphs" stroke="#333" stroke-width="0.4">Weeks</text>
<text transform="translate(14.20,277.4) rotate(-90)" x="0" y="0" font-size="8.6" text-anchor="middle" fill="#333" stroke="#333" stroke-width="0.5" textLength="56.5" lengthAdjust="spacingAndGlyphs">Mean ALT level (U/L)</text>
<text x="37.30" y="382.90" font-size="6.9" text-anchor="start" font-weight="normal" fill="#222" textLength="69.2" lengthAdjust="spacingAndGlyphs" stroke="#222" stroke-width="0.25">Normal Range: 4-36 U/L</text>
<line x1="103.40" y1="388.70" x2="112.60" y2="388.70" stroke="#b4b4b4" stroke-width="1.0"/>
<circle cx="108.00" cy="388.70" r="1.8" fill="#b4b4b4"/>
<line x1="103.40" y1="399.20" x2="112.60" y2="399.20" stroke="#6f7c86" stroke-width="1.0"/>
<circle cx="108.00" cy="399.20" r="1.8" fill="#6f7c86"/>
<text x="115.80" y="401.50" font-size="7.0" text-anchor="start" font-weight="normal" fill="#222" textLength="24.6" lengthAdjust="spacingAndGlyphs" stroke="#222" stroke-width="0.15">Cohort 1</text>
<line x1="103.40" y1="409.80" x2="112.60" y2="409.80" stroke="#2f3a44" stroke-width="1.0"/>
<circle cx="108.00" cy="409.80" r="1.8" fill="#2f3a44"/>
<line x1="147.20" y1="388.70" x2="156.40" y2="388.70" stroke="#f3dcc0" stroke-width="1.0"/>
<circle cx="151.80" cy="388.70" r="1.8" fill="#f3dcc0"/>
<line x1="147.20" y1="399.20" x2="156.40" y2="399.20" stroke="#f0a444" stroke-width="1.0"/>
<circle cx="151.80" cy="399.20" r="1.8" fill="#f0a444"/>
<text x="160.00" y="401.50" font-size="7.0" text-anchor="start" font-weight="normal" fill="#222" textLength="24.6" lengthAdjust="spacingAndGlyphs" stroke="#222" stroke-width="0.15">Cohort 2</text>
<line x1="147.20" y1="409.80" x2="156.40" y2="409.80" stroke="#d89a1c" stroke-width="1.0"/>
<circle cx="151.80" cy="409.80" r="1.8" fill="#d89a1c"/>
<text x="269.70" y="205.30" font-size="11.8" text-anchor="start" font-weight="bold" fill="#000" >D</text>
<rect x="299.50" y="227.56" width="213.71" height="101.28" fill="#e2edd8"/>
<g><polyline points="299.50,254.25 324.86,271.52 350.23,284.08 400.95,292.87 451.68,298.84 510.21,289.73" fill="none" stroke="#f5ddc2" stroke-width="0.95" stroke-linejoin="round"/>
<circle cx="299.50" cy="254.25" r="1.25" fill="#f5ddc2"/>
<circle cx="324.86" cy="271.52" r="1.25" fill="#f5ddc2"/>
<circle cx="350.23" cy="284.08" r="1.25" fill="#f5ddc2"/>
<circle cx="400.95" cy="292.87" r="1.25" fill="#f5ddc2"/>
<circle cx="451.68" cy="298.84" r="1.25" fill="#f5ddc2"/>
<circle cx="510.21" cy="289.73" r="1.25" fill="#f5ddc2"/>
</g>
<g><polyline points="299.50,279.06 312.18,277.80 324.86,268.38 350.23,255.19 400.95,252.05 451.68,261.47" fill="none" stroke="#b8b8b8" stroke-width="0.95" stroke-linejoin="round"/>
<circle cx="299.50" cy="279.06" r="1.25" fill="#b8b8b8"/>
<circle cx="312.18" cy="277.80" r="1.25" fill="#b8b8b8"/>
<circle cx="324.86" cy="268.38" r="1.25" fill="#b8b8b8"/>
<circle cx="350.23" cy="255.19" r="1.25" fill="#b8b8b8"/>
<circle cx="400.95" cy="252.05" r="1.25" fill="#b8b8b8"/>
<circle cx="451.68" cy="261.47" r="1.25" fill="#b8b8b8"/>
</g>
<g><polyline points="299.50,289.10 312.18,276.86 324.86,267.75 350.23,289.73 400.95,280.31 451.68,273.72" fill="none" stroke="#78848c" stroke-width="0.95" stroke-linejoin="round"/>
<circle cx="299.50" cy="289.10" r="1.25" fill="#78848c"/>
<circle cx="312.18" cy="276.86" r="1.25" fill="#78848c"/>
<circle cx="324.86" cy="267.75" r="1.25" fill="#78848c"/>
<circle cx="350.23" cy="289.73" r="1.25" fill="#78848c"/>
<circle cx="400.95" cy="280.31" r="1.25" fill="#78848c"/>
<circle cx="451.68" cy="273.72" r="1.25" fill="#78848c"/>
</g>
<g><polyline points="299.50,289.73 324.86,261.16 350.23,270.89 400.95,277.80 502.40,280.31" fill="none" stroke="#3c4850" stroke-width="0.95" stroke-linejoin="round"/>
<circle cx="299.50" cy="289.73" r="1.25" fill="#3c4850"/>
<circle cx="324.86" cy="261.16" r="1.25" fill="#3c4850"/>
<circle cx="350.23" cy="270.89" r="1.25" fill="#3c4850"/>
<circle cx="400.95" cy="277.80" r="1.25" fill="#3c4850"/>
<circle cx="502.40" cy="280.31" r="1.25" fill="#3c4850"/>
</g>
<g><polyline points="299.50,235.41 324.86,283.14 350.23,286.28 400.95,283.14 451.68,280.31 510.21,289.73" fill="none" stroke="#e4ad45" stroke-width="0.95" stroke-linejoin="round"/>
<circle cx="299.50" cy="235.41" r="1.25" fill="#e4ad45"/>
<circle cx="324.86" cy="283.14" r="1.25" fill="#e4ad45"/>
<circle cx="350.23" cy="286.28" r="1.25" fill="#e4ad45"/>
<circle cx="400.95" cy="283.14" r="1.25" fill="#e4ad45"/>
<circle cx="451.68" cy="280.31" r="1.25" fill="#e4ad45"/>
<circle cx="510.21" cy="289.73" r="1.25" fill="#e4ad45"/>
</g>
<g><polyline points="299.50,247.03 324.86,268.38 350.23,280.31 400.95,273.72 451.68,258.02 510.21,276.86" fill="none" stroke="#f3b86c" stroke-width="0.95" stroke-linejoin="round"/>
<circle cx="299.50" cy="247.03" r="1.25" fill="#f3b86c"/>
<circle cx="324.86" cy="268.38" r="1.25" fill="#f3b86c"/>
<circle cx="350.23" cy="280.31" r="1.25" fill="#f3b86c"/>
<circle cx="400.95" cy="273.72" r="1.25" fill="#f3b86c"/>
<circle cx="451.68" cy="258.02" r="1.25" fill="#f3b86c"/>
<circle cx="510.21" cy="276.86" r="1.25" fill="#f3b86c"/>
</g>
<line x1="299.50" y1="210.90" x2="299.50" y2="341.10" stroke="#222" stroke-width="1.1"/>
<line x1="299.00" y1="340.60" x2="513.21" y2="340.60" stroke="#222" stroke-width="1.1"/>
<line x1="296.50" y1="340.60" x2="299.50" y2="340.60" stroke="#222" stroke-width="1.0"/>
<text x="293.50" y="342.60" font-size="6.6" text-anchor="end" font-weight="normal" fill="#3a3a3a" stroke="#3a3a3a" stroke-width="0.22">0</text>
<line x1="296.50" y1="309.20" x2="299.50" y2="309.20" stroke="#222" stroke-width="1.0"/>
<text x="293.50" y="311.20" font-size="6.6" text-anchor="end" font-weight="normal" fill="#3a3a3a" stroke="#3a3a3a" stroke-width="0.22">10</text>
<line x1="296.50" y1="277.80" x2="299.50" y2="277.80" stroke="#222" stroke-width="1.0"/>
<text x="293.50" y="279.80" font-size="6.6" text-anchor="end" font-weight="normal" fill="#3a3a3a" stroke="#3a3a3a" stroke-width="0.22">20</text>
<line x1="296.50" y1="246.40" x2="299.50" y2="246.40" stroke="#222" stroke-width="1.0"/>
<text x="293.50" y="248.40" font-size="6.6" text-anchor="end" font-weight="normal" fill="#3a3a3a" stroke="#3a3a3a" stroke-width="0.22">30</text>
<line x1="296.50" y1="215.00" x2="299.50" y2="215.00" stroke="#222" stroke-width="1.0"/>
<text x="293.50" y="217.00" font-size="6.6" text-anchor="end" font-weight="normal" fill="#3a3a3a" stroke="#3a3a3a" stroke-width="0.22">40</text>
<line x1="299.50" y1="340.60" x2="299.50" y2="343.60" stroke="#222" stroke-width="1.0"/>
<text transform="translate(301.70,350.60) rotate(-45)" x="0" y="0" font-size="6.6" text-anchor="end" fill="#3a3a3a" stroke="#3a3a3a" stroke-width="0.22">0</text>
<line x1="311.21" y1="340.60" x2="311.21" y2="343.60" stroke="#222" stroke-width="1.0"/>
<text transform="translate(313.41,350.60) rotate(-45)" x="0" y="0" font-size="6.6" text-anchor="end" fill="#3a3a3a" stroke="#3a3a3a" stroke-width="0.22">12</text>
<line x1="322.91" y1="340.60" x2="322.91" y2="343.60" stroke="#222" stroke-width="1.0"/>
<text transform="translate(325.11,350.60) rotate(-45)" x="0" y="0" font-size="6.6" text-anchor="end" fill="#3a3a3a" stroke="#3a3a3a" stroke-width="0.22">24</text>
<line x1="334.62" y1="340.60" x2="334.62" y2="343.60" stroke="#222" stroke-width="1.0"/>
<text transform="translate(336.82,350.60) rotate(-45)" x="0" y="0" font-size="6.6" text-anchor="end" fill="#3a3a3a" stroke="#3a3a3a" stroke-width="0.22">36</text>
<line x1="346.32" y1="340.60" x2="346.32" y2="343.60" stroke="#222" stroke-width="1.0"/>
<text transform="translate(348.52,350.60) rotate(-45)" x="0" y="0" font-size="6.6" text-anchor="end" fill="#3a3a3a" stroke="#3a3a3a" stroke-width="0.22">48</text>
<line x1="358.03" y1="340.60" x2="358.03" y2="343.60" stroke="#222" stroke-width="1.0"/>
<text transform="translate(360.23,350.60) rotate(-45)" x="0" y="0" font-size="6.6" text-anchor="end" fill="#3a3a3a" stroke="#3a3a3a" stroke-width="0.22">60</text>
<line x1="369.74" y1="340.60" x2="369.74" y2="343.60" stroke="#222" stroke-width="1.0"/>
<text transform="translate(371.94,350.60) rotate(-45)" x="0" y="0" font-size="6.6" text-anchor="end" fill="#3a3a3a" stroke="#3a3a3a" stroke-width="0.22">72</text>
<line x1="381.44" y1="340.60" x2="381.44" y2="343.60" stroke="#222" stroke-width="1.0"/>
<text transform="translate(383.64,350.60) rotate(-45)" x="0" y="0" font-size="6.6" text-anchor="end" fill="#3a3a3a" stroke="#3a3a3a" stroke-width="0.22">84</text>
<line x1="393.15" y1="340.60" x2="393.15" y2="343.60" stroke="#222" stroke-width="1.0"/>
<text transform="translate(395.35,350.60) rotate(-45)" x="0" y="0" font-size="6.6" text-anchor="end" fill="#3a3a3a" stroke="#3a3a3a" stroke-width="0.22">96</text>
<line x1="404.85" y1="340.60" x2="404.85" y2="343.60" stroke="#222" stroke-width="1.0"/>
<text transform="translate(407.05,350.60) rotate(-45)" x="0" y="0" font-size="6.6" text-anchor="end" fill="#3a3a3a" stroke="#3a3a3a" stroke-width="0.22">108</text>
<line x1="416.56" y1="340.60" x2="416.56" y2="343.60" stroke="#222" stroke-width="1.0"/>
<text transform="translate(418.76,350.60) rotate(-45)" x="0" y="0" font-size="6.6" text-anchor="end" fill="#3a3a3a" stroke="#3a3a3a" stroke-width="0.22">120</text>
<line x1="428.27" y1="340.60" x2="428.27" y2="343.60" stroke="#222" stroke-width="1.0"/>
<text transform="translate(430.47,350.60) rotate(-45)" x="0" y="0" font-size="6.6" text-anchor="end" fill="#3a3a3a" stroke="#3a3a3a" stroke-width="0.22">132</text>
<line x1="439.97" y1="340.60" x2="439.97" y2="343.60" stroke="#222" stroke-width="1.0"/>
<text transform="translate(442.17,350.60) rotate(-45)" x="0" y="0" font-size="6.6" text-anchor="end" fill="#3a3a3a" stroke="#3a3a3a" stroke-width="0.22">144</text>
<line x1="451.68" y1="340.60" x2="451.68" y2="343.60" stroke="#222" stroke-width="1.0"/>
<text transform="translate(453.88,350.60) rotate(-45)" x="0" y="0" font-size="6.6" text-anchor="end" fill="#3a3a3a" stroke="#3a3a3a" stroke-width="0.22">156</text>
<line x1="463.38" y1="340.60" x2="463.38" y2="343.60" stroke="#222" stroke-width="1.0"/>
<text transform="translate(465.58,350.60) rotate(-45)" x="0" y="0" font-size="6.6" text-anchor="end" fill="#3a3a3a" stroke="#3a3a3a" stroke-width="0.22">168</text>
<line x1="475.09" y1="340.60" x2="475.09" y2="343.60" stroke="#222" stroke-width="1.0"/>
<text transform="translate(477.29,350.60) rotate(-45)" x="0" y="0" font-size="6.6" text-anchor="end" fill="#3a3a3a" stroke="#3a3a3a" stroke-width="0.22">180</text>
<line x1="486.80" y1="340.60" x2="486.80" y2="343.60" stroke="#222" stroke-width="1.0"/>
<text transform="translate(489.00,350.60) rotate(-45)" x="0" y="0" font-size="6.6" text-anchor="end" fill="#3a3a3a" stroke="#3a3a3a" stroke-width="0.22">192</text>
<line x1="498.50" y1="340.60" x2="498.50" y2="343.60" stroke="#222" stroke-width="1.0"/>
<text transform="translate(500.70,350.60) rotate(-45)" x="0" y="0" font-size="6.6" text-anchor="end" fill="#3a3a3a" stroke="#3a3a3a" stroke-width="0.22">204</text>
<line x1="510.21" y1="340.60" x2="510.21" y2="343.60" stroke="#222" stroke-width="1.0"/>
<text transform="translate(512.41,350.60) rotate(-45)" x="0" y="0" font-size="6.6" text-anchor="end" fill="#3a3a3a" stroke="#3a3a3a" stroke-width="0.22">216</text>
<text x="406.30" y="371.60" font-size="8.6" text-anchor="middle" font-weight="normal" fill="#333" textLength="18.0" lengthAdjust="spacingAndGlyphs" stroke="#333" stroke-width="0.4">Weeks</text>
<text transform="translate(276.20,277.4) rotate(-90)" x="0" y="0" font-size="8.6" text-anchor="middle" fill="#333" stroke="#333" stroke-width="0.5" textLength="56.5" lengthAdjust="spacingAndGlyphs">Mean AST level (U/L)</text>
<text x="299.30" y="382.90" font-size="6.9" text-anchor="start" font-weight="normal" fill="#222" textLength="69.2" lengthAdjust="spacingAndGlyphs" stroke="#222" stroke-width="0.25">Normal Range: 8-33 U/L</text>
<line x1="365.40" y1="388.70" x2="374.60" y2="388.70" stroke="#b4b4b4" stroke-width="1.0"/>
<circle cx="370.00" cy="388.70" r="1.8" fill="#b4b4b4"/>
<line x1="365.40" y1="399.20" x2="374.60" y2="399.20" stroke="#6f7c86" stroke-width="1.0"/>
<circle cx="370.00" cy="399.20" r="1.8" fill="#6f7c86"/>
<text x="377.80" y="401.50" font-size="7.0" text-anchor="start" font-weight="normal" fill="#222" textLength="24.6" lengthAdjust="spacingAndGlyphs" stroke="#222" stroke-width="0.15">Cohort 1</text>
<line x1="365.40" y1="409.80" x2="374.60" y2="409.80" stroke="#2f3a44" stroke-width="1.0"/>
<circle cx="370.00" cy="409.80" r="1.8" fill="#2f3a44"/>
<line x1="409.20" y1="388.70" x2="418.40" y2="388.70" stroke="#f3dcc0" stroke-width="1.0"/>
<circle cx="413.80" cy="388.70" r="1.8" fill="#f3dcc0"/>
<line x1="409.20" y1="399.20" x2="418.40" y2="399.20" stroke="#f0a444" stroke-width="1.0"/>
<circle cx="413.80" cy="399.20" r="1.8" fill="#f0a444"/>
<text x="422.00" y="401.50" font-size="7.0" text-anchor="start" font-weight="normal" fill="#222" textLength="24.6" lengthAdjust="spacingAndGlyphs" stroke="#222" stroke-width="0.15">Cohort 2</text>
<line x1="409.20" y1="409.80" x2="418.40" y2="409.80" stroke="#d89a1c" stroke-width="1.0"/>
<circle cx="413.80" cy="409.80" r="1.8" fill="#d89a1c"/>
<rect x="0.5" y="0.5" width="519" height="418" fill="none" stroke="#555" stroke-width="1"/>
</svg>
</body></html>
